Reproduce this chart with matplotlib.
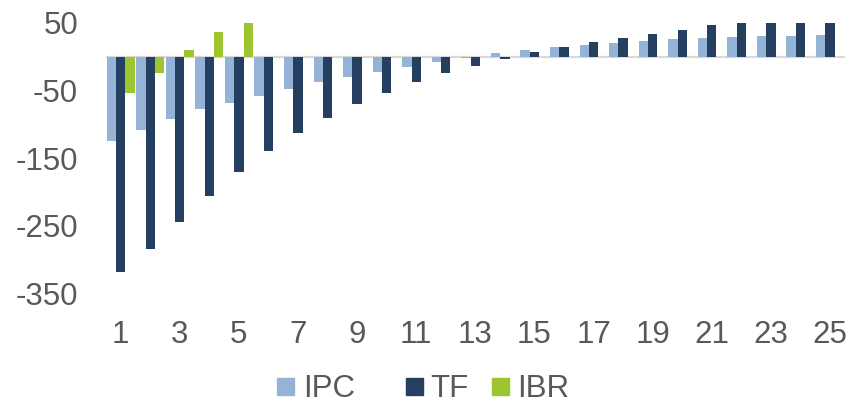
import numpy as np
import matplotlib
matplotlib.use("Agg")
import matplotlib.pyplot as plt
from matplotlib.patches import Rectangle

categories = list(range(1, 26))
ipc = [-125, -109, -92, -78, -68, -58, -48, -38, -30, -22, -15, -8, -2.5, 6, 10,
       14, 18, 21, 24, 26, 28, 29, 31, 31, 32]
tf = [-318, -284, -244, -206, -171, -140, -113, -90, -70, -53, -37, -24, -13, -3, 7,
      15, 22, 28, 34, 40, 47, 50, 50, 50, 50]
ibr = [-54, -24, 10, 37, 50]
ytick_vals = [50, -50, -150, -250, -350]
xtick_labels = [str(c) for c in categories[::2]]

c_ipc = "#95B3D7"
c_tf = "#243F60"
c_ibr = "#9DC52F"
txt = "#595959"

plt.rcParams['font.family'] = ['Liberation Sans', 'DejaVu Sans']

fig = plt.figure(figsize=(8.5, 4.04), dpi=100)
ax = fig.add_axes([105.9 / 850, 1 - 293.25 / 404, (844.8 - 105.9) / 850, (293.25 - 23) / 404])

x = np.array(categories, dtype=float)
w = 0.316
ax.bar(x - w, ipc, width=w, color=c_ipc, zorder=2)
ax.bar(x, tf, width=w, color=c_tf, zorder=2)
ax.bar(x[:len(ibr)] + w, ibr, width=w, color=c_ibr, zorder=2)
ax.axhline(0, color="#D9D9D9", lw=1.6, zorder=1)

ax.set_xlim(0.5, 25.5)
ax.set_ylim(-350, 50)
ax.set_yticks(ytick_vals)
ax.set_yticklabels([str(v) for v in ytick_vals])
ax.set_xticks(categories[::2])
ax.set_xticklabels(xtick_labels)
ax.tick_params(axis='y', length=0, pad=20, labelsize=22.5, labelcolor=txt)
ax.tick_params(axis='x', length=0, pad=19, labelsize=22.5, labelcolor=txt)
for s in ax.spines.values():
    s.set_visible(False)

# legend
W, H = 850, 404
base = 396.8
entries = [("IPC", c_ipc, 277.3, 303), ("TF", c_tf, 405.7, 430), ("IBR", c_ibr, 491.7, 516.7)]
for lab, col, sx, tx in entries:
    fig.patches.append(Rectangle((sx / W, 1 - (base - 1.5) / H), 17 / W, 17 / H,
                                 transform=fig.transFigure, color=col, figure=fig))
    fig.text(tx / W, 1 - base / H, lab, fontsize=22.5, color=txt, va='baseline', ha='left')

fig.savefig("out.png", dpi=100)
